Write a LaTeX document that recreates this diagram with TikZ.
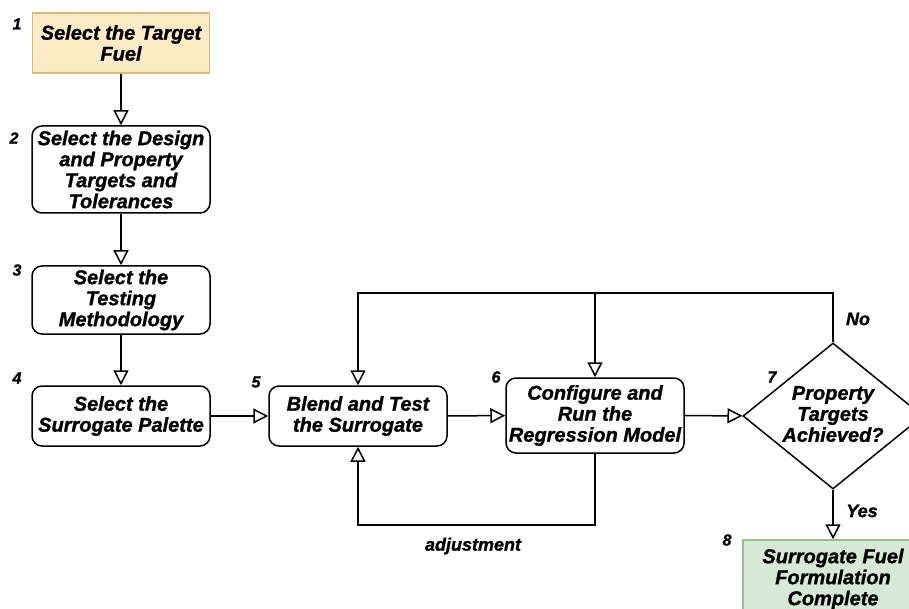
\documentclass[tikz,border=0pt]{standalone}
\usepackage{fontspec}
\setmainfont{Liberation Sans}[BoldItalicFeatures={FakeBold=1.2}]
\usetikzlibrary{arrows.meta,shapes.geometric}
\definecolor{fuelfill}{RGB}{252,235,196}
\definecolor{fueldraw}{RGB}{215,185,125}
\definecolor{donefill}{RGB}{214,233,212}
\definecolor{donedraw}{RGB}{150,192,148}

\begin{document}
\begin{tikzpicture}[x=1pt,y=-1pt,line width=1.5pt,
    every node/.style={font=\fontsize{20}{21}\selectfont\bfseries\itshape,align=center,inner sep=0pt},
    stage/.style={draw,rounded corners=10pt,minimum width=178pt},
    num/.style={font=\fontsize{16}{16}\selectfont\bfseries\itshape},
    lbl/.style={font=\fontsize{18}{18}\selectfont\bfseries\itshape},
    tip/.style={-{Triangle[open,length=15pt,width=15pt]}}]
                        \useasboundingbox (0,0) rectangle (909,609);
                        \clip (0,0) rectangle (909,609);
                        \node[draw=fueldraw,fill=fuelfill,minimum width=177pt,minimum height=60pt] (1) at (121,43) {Select the Target\\Fuel};
                        \node[stage,minimum height=87pt] (2) at (121,169.5) {Select the Design\\and Property\\Targets and\\Tolerances};
                        \node[stage,minimum height=68pt] (3) at (121,300) {Select the\\Testing\\Methodology};
                        \node[stage,minimum height=60pt] (4) at (121,416) {Select the\\Surrogate Palette};
                        \node[stage,minimum height=60pt] (5) at (358,416) {Blend and Test\\the Surrogate};
                        \node[stage,minimum height=75pt] (6) at (595,415.5) {Configure and\\Run the\\Regression Model};
                        \node[draw,diamond,minimum width=180pt,minimum height=146pt] (7) at (833,416) {};
                        \node (7t) at (833,414) {Property\\Targets\\Achieved?};
                        \node[draw=donedraw,fill=donefill,minimum width=180pt,minimum height=78pt] (8) at (833,579) {Surrogate Fuel\\Formulation\\Complete};
                        \node[num] (n1) at (17,24) {1};
                        \node[num] (n2) at (14,138) {2};
                        \node[num] (n3) at (17,270) {3};
                        \node[num] (n4) at (17,378) {4};
                        \node[num] (n5) at (256,382) {5};
                        \node[num] (n6) at (496,377) {6};
                        \node[num] (n7) at (772,377) {7};
                        \node[num] (n8) at (727,540) {8};
                        \coordinate (fb) at (833,293);
                        \coordinate (adj) at (595,525);
                        \draw[tip] (1) to (2);
                        \draw[tip] (2) to (3);
                        \draw[tip] (3) to (4);
                        \draw[tip] (4) to (5);
                        \draw[tip] (5) to (6);
                        \draw[tip] (6) to (7);
                        \draw[tip] (7) to (8);
                        \draw[tip] (7.north) -- (fb) -| (5.north);
                        \draw[tip] (6.north |- fb) -- (6.north);
                        \draw[tip] (6.south) -- (adj) -| (5.south);
                        \node[lbl] (no) at (858,319) {No};
                        \node[lbl] (yes) at (862,511) {Yes};
                        \node[lbl] (adjlbl) at (473,546) {adjustment};
                  \end{tikzpicture}
\end{document}
